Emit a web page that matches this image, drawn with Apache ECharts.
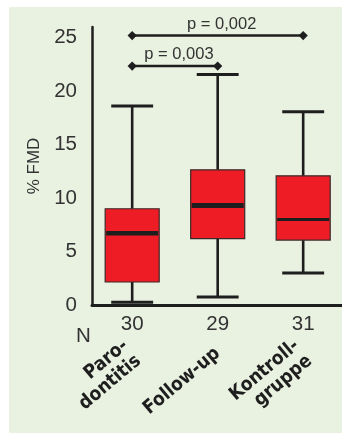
<!DOCTYPE html>
<html><head><meta charset="utf-8">
<script src="https://cdn.jsdelivr.net/npm/echarts@6/dist/echarts.min.js"></script>
<style>html,body{margin:0;padding:0;background:#fff}#c{width:342px;height:433px}</style>
</head><body><div id="c"></div>
<script>
// ---- data ----
const categories = ['Paro-\ndontitis', 'Follow-up', 'Kontroll-\ngruppe'];
const groupN = [30, 29, 31];
const whiskerLow = [0.25, 0.75, 3.0];
const q1 = [2.15, 6.2, 6.07];
const median = [6.7, 9.3, 8.0];
const q3 = [9.0, 12.64, 12.08];
const whiskerHigh = [18.6, 21.55, 18.07];
const compFrom = [1, 1];
const compTo = [2, 3];
const compY = [22.35, 25.2];
const compLabel = ['p = 0,003', 'p = 0,002'];
const yTicks = [0, 5, 10, 15, 20, 25];
const yName = '% FMD';

// ---- style ----
const NARROW = "'DejaVu Sans Condensed',sans-serif";
const REG = "'Liberation Sans',Arial,sans-serif";
const TXT = '#333';
const INK = '#1e1e1e';
const medianWidths = [4.5, 5, 3];

const chart = echarts.init(document.getElementById('c'), null, {renderer: 'canvas'});
const boxData = categories.map((_, i) => [i + 1, whiskerLow[i], q1[i], median[i], q3[i], whiskerHigh[i]]);
const compData = compLabel.map((l, i) => [compFrom[i], compTo[i], compY[i], l]);

chart.setOption({
  backgroundColor: '#fff',
  animation: false,
  graphic: [
    {type: 'rect', left: 9, top: 7, shape: {width: 333, height: 426}, style: {fill: '#e9f1e1'}, z: -100, silent: true},
    {type: 'text', left: 76, top: 326, style: {text: 'N', fontSize: 20.5, fontFamily: REG, fill: TXT}, z: 10},
    {type: 'text', x: 43, y: 166, rotation: Math.PI / 2,
      style: {text: yName, fontSize: 17, fontFamily: REG, fill: TXT, align: 'center', verticalAlign: 'bottom'}, z: 10}
  ],
  grid: {left: 92, right: 0, top: 27, bottom: 128},
  xAxis: [{
    type: 'value', min: 0.53, max: 3.454,
    axisLine: {show: true, onZero: false, lineStyle: {color: INK, width: 3}},
    axisTick: {show: false}, splitLine: {show: false},
    axisLabel: {customValues: [1, 2, 3], formatter: v => String(groupN[Math.round(v) - 1]),
      fontFamily: REG, fontSize: 20.5, color: TXT, margin: 9}
  }, {
    type: 'value', min: 0.53, max: 3.454, position: 'bottom', offset: 0,
    axisLine: {show: false}, axisTick: {show: false}, splitLine: {show: false},
    axisLabel: {customValues: [1, 2, 3], formatter: v => categories[Math.round(v) - 1],
      rotate: 40, fontFamily: NARROW, fontWeight: 'bold', fontSize: 19, lineHeight: 20, color: INK, margin: 46}
  }],
  yAxis: {
    type: 'value', min: 0, max: 26, interval: 5,
    axisLine: {show: true, lineStyle: {color: INK, width: 2.5}},
    axisTick: {show: false}, splitLine: {show: false},
    axisLabel: {formatter: v => yTicks.includes(v) ? String(v) : '', fontFamily: REG, fontSize: 20.5, color: TXT, margin: 15}
  },
  series: [{
    type: 'custom', xAxisIndex: 0, z: 3,
    encode: {x: 0, y: [1, 2, 3, 4, 5]},
    data: boxData,
    renderItem: (params, api) => {
      const i = params.dataIndex;
      const x = api.value(0);
      const pLow = api.coord([x, api.value(1)]);
      const pQ1 = api.coord([x, api.value(2)]);
      const pMed = api.coord([x, api.value(3)]);
      const pQ3 = api.coord([x, api.value(4)]);
      const pHigh = api.coord([x, api.value(5)]);
      const bw = api.size([0.632, 0])[0];
      const cw = api.size([0.49, 0])[0];
      const cx = pQ1[0];
      const ln = (x1, y1, x2, y2, w) => ({type: 'line', shape: {x1, y1, x2, y2}, style: {stroke: INK, lineWidth: w}});
      return {type: 'group', children: [
        ln(cx, pHigh[1], cx, pQ3[1], 2.6),
        ln(cx, pQ1[1], cx, pLow[1], 2.6),
        ln(cx - cw / 2, pHigh[1], cx + cw / 2, pHigh[1], 3),
        ln(cx - cw / 2, pLow[1], cx + cw / 2, pLow[1], 3),
        {type: 'rect', shape: {x: cx - bw / 2, y: pQ3[1], width: bw, height: pQ1[1] - pQ3[1]},
          style: {fill: '#ee1c25', stroke: '#3a2a2a', lineWidth: 1.2}},
        ln(cx - bw / 2 + 1, pMed[1], cx + bw / 2 - 1, pMed[1], medianWidths[i])
      ]};
    }
  }, {
    type: 'custom', xAxisIndex: 0, z: 4,
    encode: {x: [0, 1], y: 2},
    data: compData,
    renderItem: (params, api) => {
      const a = api.coord([api.value(0), api.value(2)]);
      const b = api.coord([api.value(1), api.value(2)]);
      const d = 4.6;
      const dia = p => ({type: 'polygon', shape: {points: [[p[0] - d, p[1]], [p[0], p[1] - d], [p[0] + d, p[1]], [p[0], p[1] + d]]}, style: {fill: INK}});
      return {type: 'group', children: [
        {type: 'line', shape: {x1: a[0], y1: a[1], x2: b[0], y2: b[1]}, style: {stroke: INK, lineWidth: 2.6}},
        dia(a), dia(b),
        {type: 'text', x: (a[0] + b[0]) / 2 + 4, y: a[1] - 3,
          style: {text: compData[params.dataIndex][3], fontSize: 16.5, fontFamily: REG, fill: TXT, align: 'center', verticalAlign: 'bottom'}}
      ]};
    }
  }]
});
</script></body></html>
